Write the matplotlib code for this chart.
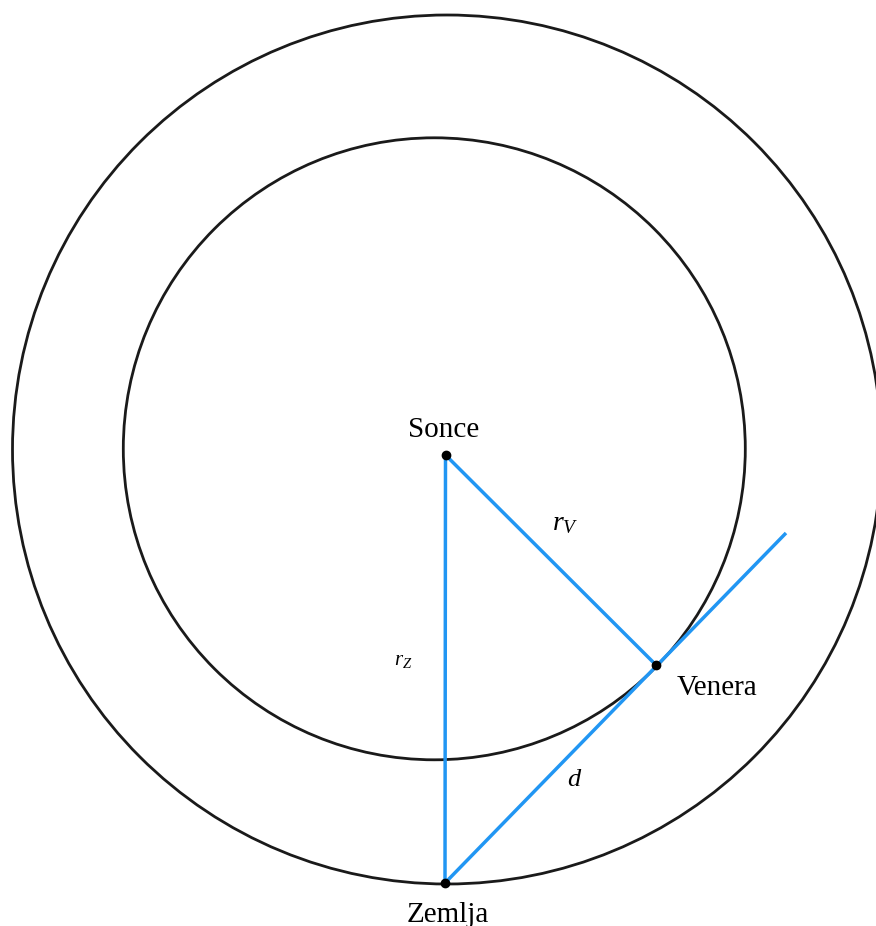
import matplotlib
matplotlib.use("Agg")
import matplotlib.pyplot as plt
from matplotlib.patches import Circle

plt.rcParams['mathtext.fontset'] = 'custom'
plt.rcParams['mathtext.rm'] = 'Liberation Serif'
plt.rcParams['mathtext.it'] = 'Liberation Serif:italic'

# Data (pixel-space diagram coordinates)
body_names = ["Sonce", "Zemlja", "Venera"]
body_x = [445.5, 445.0, 656.0]
body_y = [455.0, 883.0, 665.0]
orbit_cx = [447.0, 434.3]
orbit_cy = [449.5, 448.8]
orbit_r = [434.5, 311.0]
tangent_end = [786.0, 533.0]

W, H = 876, 926
fig = plt.figure(figsize=(W / 100, H / 100), dpi=100)
ax = fig.add_axes([0, 0, 1, 1])
ax.set_xlim(0, W)
ax.set_ylim(H, 0)
ax.set_aspect('equal')
ax.axis('off')

for cx, cy, r in zip(orbit_cx, orbit_cy, orbit_r):
    ax.add_patch(Circle((cx, cy), r, fill=False, ec='#1a1a1a', lw=2.0, zorder=1))

blue = '#2196F3'
sx, sy = body_x[0], body_y[0]
zx, zy = body_x[1], body_y[1]
vx, vy = body_x[2], body_y[2]
ax.plot([sx, zx], [sy, zy], color=blue, lw=2.5, zorder=2, solid_capstyle='butt')
ax.plot([sx, vx], [sy, vy], color=blue, lw=2.5, zorder=2, solid_capstyle='butt')
ax.plot([zx, tangent_end[0]], [zy, tangent_end[1]], color=blue, lw=2.5, zorder=2,
        solid_capstyle='butt')

ax.plot(body_x, body_y, 'o', color='black', ms=6, mfc='black', zorder=3)

serif = 'Liberation Serif'
ax.text(443.5, 437, body_names[0], family=serif, fontsize=21, ha='center', va='baseline')
ax.text(448, 922, body_names[1], family=serif, fontsize=21, ha='center', va='baseline')
ax.text(677, 695, body_names[2], family=serif, fontsize=21, ha='left', va='baseline')

ax.text(552, 530, r'$r_V$', fontsize=20, ha='left', va='baseline')
ax.text(394, 665, r'$r_Z$', fontsize=15, ha='left', va='baseline')
ax.text(567, 786, r'$d$', fontsize=19, ha='left', va='baseline')

fig.savefig('out.png', dpi=100, facecolor='white')
